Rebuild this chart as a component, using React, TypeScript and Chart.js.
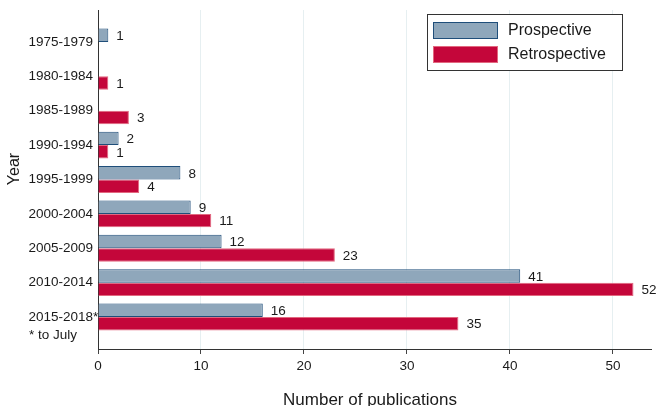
import React, { useEffect, useRef } from "react";
import { Chart, registerables } from "chart.js";

Chart.register(...registerables);

const categories = [
  "1975-1979",
  "1980-1984",
  "1985-1989",
  "1990-1994",
  "1995-1999",
  "2000-2004",
  "2005-2009",
  "2010-2014",
  "2015-2018*",
];
const prospective: (number | null)[] = [1, null, null, 2, 8, 9, 12, 41, 16];
const retrospective: (number | null)[] = [null, 1, 3, 1, 4, 11, 23, 52, 35];
const xTicks = [0, 10, 20, 30, 40, 50];
const footnote = "* to July";
const xTitle = "Number of publications";
const yTitle = "Year";
const seriesNames = ["Prospective", "Retrospective"];

const FONT = "'Liberation Sans', Arial, Helvetica, sans-serif";
const TEXT = "#1a1a1a";
const PRO_FILL = "#8FA7BB";
const PRO_BORDER = "#1F4E7A";
const RET_FILL = "#C4063A";
const RET_BORDER = "#E2687F";

const overlayPlugin = {
  id: "overlay",
  afterDatasetsDraw(chart: any) {
    const ctx = chart.ctx;
    ctx.save();
    // data labels
    ctx.font = `13.5px ${FONT}`;
    ctx.fillStyle = TEXT;
    ctx.textAlign = "left";
    ctx.textBaseline = "middle";
    chart.data.datasets.forEach((ds: any, di: number) => {
      const meta = chart.getDatasetMeta(di);
      meta.data.forEach((el: any, i: number) => {
        const v = ds.data[i].x;
        if (v === null || v === undefined) return;
        ctx.fillText(String(v), el.x + 8, el.y + 1);
      });
    });
    // category labels (asterisk hangs past the alignment edge)
    const yScale = chart.scales.y;
    const edge = yScale.right - 5;
    categories.forEach((c, i) => {
      const py = yScale.getPixelForValue(i);
      const core = c.replace(/\*$/, "");
      const w = ctx.measureText(core).width;
      ctx.fillText(c, edge - w, py);
    });
    // footnote under last category label
    const lastY = yScale.getPixelForValue(categories.length - 1);
    ctx.fillText(footnote, 29, lastY + 18);
    // axis titles
    ctx.font = `17px ${FONT}`;
    ctx.textAlign = "center";
    ctx.textBaseline = "alphabetic";
    ctx.fillText(xTitle, 370, 405);
    ctx.font = `16px ${FONT}`;
    ctx.textBaseline = "middle";
    ctx.save();
    ctx.translate(15, 169);
    ctx.rotate(-Math.PI / 2);
    ctx.fillText(yTitle, 0, 0);
    ctx.restore();
    // legend
    const lx = 427, ly = 14, lw = 195, lh = 56;
    ctx.fillStyle = "#ffffff";
    ctx.fillRect(lx, ly, lw, lh);
    ctx.strokeStyle = "#333333";
    ctx.lineWidth = 1;
    ctx.strokeRect(lx + 0.5, ly + 0.5, lw, lh);
    const fills = [PRO_FILL, RET_FILL];
    const borders = [PRO_BORDER, RET_BORDER];
    seriesNames.forEach((name, i) => {
      const sy = 22 + i * 24;
      ctx.fillStyle = fills[i];
      ctx.fillRect(433, sy, 65, 17);
      ctx.strokeStyle = borders[i];
      ctx.strokeRect(433.5, sy + 0.5, 64, 16);
      ctx.fillStyle = TEXT;
      ctx.textAlign = "left";
      ctx.fillText(name, 508, sy + 9);
    });
    ctx.restore();
  },
};

export default function App() {
  const ref = useRef<HTMLCanvasElement | null>(null);
  useEffect(() => {
    if (!ref.current) return;
    const n = categories.length;
    const chart = new Chart(ref.current, {
      type: "bar",
      data: {
        datasets: [
          {
            label: seriesNames[0],
            data: prospective.map((v, i) => ({ x: v, y: i })) as any,
            backgroundColor: PRO_FILL,
            borderColor: PRO_BORDER,
            borderWidth: 1,
            categoryPercentage: 0.78,
            barPercentage: 1,
          },
          {
            label: seriesNames[1],
            data: retrospective.map((v, i) => ({ x: v, y: i })) as any,
            backgroundColor: RET_FILL,
            borderColor: RET_BORDER,
            borderWidth: 1,
            categoryPercentage: 0.78,
            barPercentage: 1,
          },
        ],
      },
      options: {
        indexAxis: "y",
        animation: false,
        responsive: false,
        maintainAspectRatio: false,
        layout: { padding: { top: 10, right: 5, left: 0, bottom: 0 } },
        plugins: {
          legend: { display: false },
          tooltip: { enabled: false },
        },
        scales: {
          y: {
            type: "linear",
            reverse: true,
            offset: false,
            min: -0.93,
            max: n - 1 + 0.93,
            afterFit: (s: any) => {
              s.width = 98;
            },
            afterBuildTicks: (s: any) => {
              s.ticks = categories.map((_, i) => ({ value: i }));
            },
            ticks: { display: false },
            grid: { display: false, drawTicks: false, offset: false },
            border: { display: true, color: "#333333", width: 1 },
          },
          x: {
            type: "linear",
            min: 0,
            max: 53.7,
            offset: false,
            afterFit: (s: any) => {
              s.height = 57;
            },
            afterBuildTicks: (s: any) => {
              s.ticks = xTicks.map((v) => ({ value: v }));
            },
            ticks: {
              font: { family: FONT, size: 13.5 },
              color: TEXT,
              padding: 4,
            },
            grid: {
              color: "#E6EFF1",
              tickColor: "#444444",
              tickLength: 5,
              lineWidth: 1,
            },
            border: { display: true, color: "#333333", width: 1 },
          },
        },
      },
      plugins: [overlayPlugin],
    });
    return () => chart.destroy();
  }, []);
  return (
    <div style={{ position: "fixed", left: 0, top: 0, width: 656, height: 406, background: "#fff" }}>
      <canvas ref={ref} width={656} height={406} style={{ width: 656, height: 406 }} />
    </div>
  );
}
